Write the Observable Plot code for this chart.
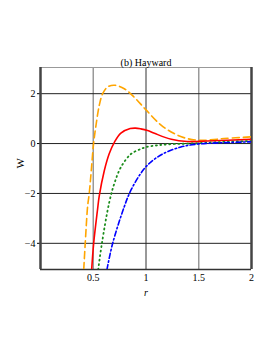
<!DOCTYPE html>
<html>
<head>
<meta charset="utf-8">
<script src="https://cdn.jsdelivr.net/npm/d3@7"></script>
<script src="https://cdn.jsdelivr.net/npm/@observablehq/plot@0.6"></script>
<style>
html, body { margin: 0; padding: 0; background: #fff; }
#chart svg { display: block; }
</style>
</head>
<body>
<div id="chart"></div>
<script>
const title = "(b) Hayward";
const xTicks = [0.5, 1, 1.5, 2];
const yTicks = [-4, -2, 0, 2];

const orangeR = [0.41, 0.424, 0.447, 0.462, 0.483, 0.503, 0.526, 0.557, 0.589, 0.636, 0.70, 0.794, 0.888, 1.0, 1.14, 1.267, 1.39, 1.52, 1.74, 2.0];
const orangeW = [-5.05, -4, -2.5, -2, -1, 0, 0.73, 1.53, 2.0, 2.27, 2.34, 2.2, 1.86, 1.35, 0.75, 0.4, 0.2, 0.13, 0.2, 0.27];

const redR = [0.485, 0.504, 0.54, 0.557, 0.604, 0.652, 0.70, 0.762, 0.85, 0.9, 0.95, 1.015, 1.08, 1.24, 1.39, 1.58, 2.0];
const redW = [-5.05, -4, -2.67, -2.1, -1.1, -0.4, 0.05, 0.42, 0.6, 0.62, 0.59, 0.52, 0.41, 0.17, 0.08, 0.1, 0.17];

const greenR = [0.547, 0.582, 0.652, 0.70, 0.762, 0.857, 0.95, 1.0, 1.11, 1.25, 1.42, 1.7, 2.0];
const greenW = [-5.05, -4, -2.35, -1.6, -0.95, -0.42, -0.22, -0.14, -0.07, -0.02, 0.0, 0.06, 0.1];

const blueR = [0.63, 0.684, 0.794, 0.857, 0.95, 1.03, 1.157, 1.33, 1.49, 1.7, 2.0];
const blueW = [-5.05, -4, -2.53, -1.87, -1.2, -0.8, -0.42, -0.14, -0.02, 0.03, 0.07];

const toPts = (R, W) => R.map((r, i) => ({r, w: W[i]}));
const orange = toPts(orangeR, orangeW);
const red = toPts(redR, redW);
const green = toPts(greenR, greenW);
const blue = toPts(blueR, blueW);

const font = "'Liberation Serif', 'DejaVu Serif', serif";

const chart = Plot.plot({
  width: 273,
  height: 353,
  marginLeft: 40,
  marginRight: 22,
  marginTop: 67,
  marginBottom: 84,
  style: {fontFamily: font, fontSize: "10px", color: "#000", background: "#fff"},
  x: {domain: [0, 2]},
  y: {domain: [-5.05, 3.05], ticks: yTicks, tickSize: 3, tickPadding: 2, tickFormat: d => d < 0 ? "\u2212" + Math.abs(d) : String(d), label: null},
  marks: [
    Plot.ruleX([0.5, 1.5], {stroke: "#999", strokeWidth: 1.5}),
    Plot.ruleX([1], {stroke: "#333", strokeWidth: 1}),
    Plot.ruleY(yTicks, {stroke: "#222", strokeWidth: 1}),
    Plot.ruleY([3.05], {stroke: "#999", strokeWidth: 1}),
    Plot.ruleY([-5.05], {stroke: "#333", strokeWidth: 1.5}),
    Plot.ruleX([0], {stroke: "#444", strokeWidth: 2.5}),
    Plot.ruleX([2], {stroke: "#444", strokeWidth: 2.5}),
    Plot.line(orange, {x: "r", y: "w", stroke: "#ffa500", strokeWidth: 1.6, strokeDasharray: "7,4", curve: "catmull-rom", clip: true}),
    Plot.line(red, {x: "r", y: "w", stroke: "#ff0000", strokeWidth: 1.6, curve: "catmull-rom", clip: true}),
    Plot.line(green, {x: "r", y: "w", stroke: "#1a8c1a", strokeWidth: 1.8, strokeDasharray: "1,3.5", strokeLinecap: "round", curve: "catmull-rom", clip: true}),
    Plot.line(blue, {x: "r", y: "w", stroke: "#0000ff", strokeWidth: 1.6, strokeDasharray: "5,2.5,1.5,2.5", curve: "catmull-rom", clip: true}),
    Plot.axisX({ticks: xTicks, tickSize: 0, tickPadding: 4, tickFormat: d => String(d), label: "r", labelAnchor: "center", labelArrow: "none", labelOffset: 26}),
    Plot.text([title], {frameAnchor: "top", lineAnchor: "bottom", dy: -2, fontSize: 10, fontFamily: font}),
    Plot.text(["W"], {frameAnchor: "left", dx: -20, rotate: -90, fontSize: 11, fontFamily: font})
  ]
});
document.getElementById("chart").appendChild(chart);
chart.querySelectorAll("text").forEach(t => { if (t.textContent === "r") t.setAttribute("font-style", "italic"); });
</script>
</body>
</html>
